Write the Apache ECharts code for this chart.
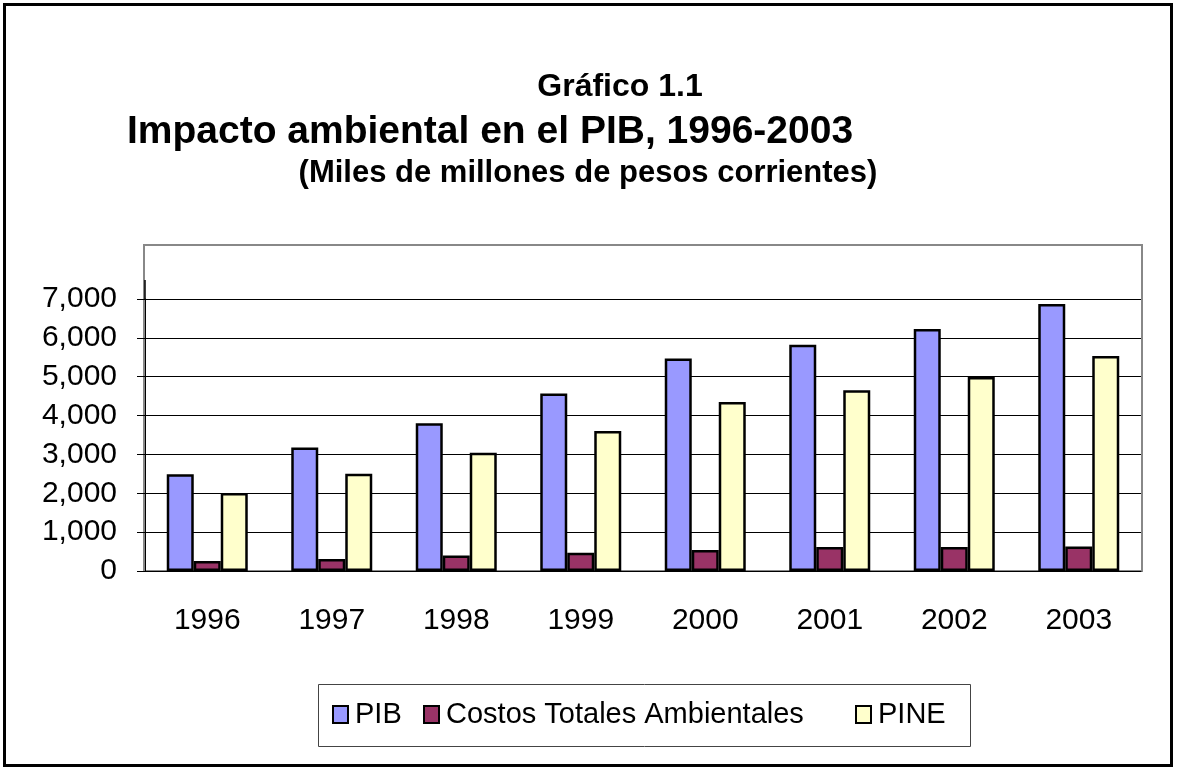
<!DOCTYPE html>
<html>
<head>
<meta charset="utf-8">
<script src="https://cdn.jsdelivr.net/npm/echarts@6/dist/echarts.min.js"></script>
<style>
  html, body { margin: 0; padding: 0; background: #fff; }
  #main { width: 1177px; height: 770px; }
</style>
</head>
<body>
<div id="main"></div>
<script>
// datos del gráfico
var years = ['1996', '1997', '1998', '1999', '2000', '2001', '2002', '2003'];
var pib = [2490, 3180, 3800, 4570, 5470, 5820, 6230, 6870];
var costos = [260, 310, 400, 470, 540, 620, 620, 630];
var pine = [2010, 2500, 3040, 3600, 4350, 4650, 4990, 5530];
var seriesNames = ['PIB', 'Costos Totales Ambientales', 'PINE'];

var FONT = '"Liberation Sans", Arial, sans-serif';

var chart = echarts.init(document.getElementById('main'));

function barSeries(name, data, color) {
    return {
        name: name,
        type: 'bar',
        data: data,
        barWidth: 27,
        barGap: '0%',
        itemStyle: {
            color: color,
            borderColor: '#000',
            borderWidth: 2.5
        }
    };
}

function legendAt(name, left) {
    return {
        data: [name],
        left: left,
        top: 700,
        icon: 'rect',
        itemWidth: 15,
        itemHeight: 17,
        itemGap: 0,
        padding: 0,
        textStyle: { fontFamily: FONT, fontSize: 29, color: '#000', padding: [0, 0, 0, 2] },
        itemStyle: { borderColor: '#000', borderWidth: 2 }
    };
}

chart.setOption({
    animation: false,
    backgroundColor: '#fff',
    grid: { left: 145, right: 36, top: 299, bottom: 199 },
    legend: [
        legendAt(seriesNames[0], 332),
        legendAt(seriesNames[1], 423),
        legendAt(seriesNames[2], 855)
    ],
    xAxis: {
        type: 'category',
        data: years,
        axisLine: { lineStyle: { color: '#000', width: 1 } },
        axisTick: { length: 11, lineStyle: { color: '#000' } },
        axisLabel: { margin: 35, fontFamily: FONT, fontSize: 30, color: '#000' }
    },
    yAxis: {
        type: 'value',
        min: 0,
        max: 7000,
        interval: 1000,
        axisLine: { show: true, lineStyle: { color: '#000', width: 1 } },
        axisTick: { show: true, length: 8, lineStyle: { color: '#000' } },
        axisLabel: {
            margin: 28,
            fontFamily: FONT,
            fontSize: 30,
            color: '#000',
            formatter: function (v) { return v.toLocaleString('en-US'); }
        },
        splitLine: { lineStyle: { color: '#000', width: 1 } }
    },
    series: [
        barSeries(seriesNames[0], pib, '#9999ff'),
        barSeries(seriesNames[1], costos, '#993366'),
        barSeries(seriesNames[2], pine, '#ffffcc')
    ],
    graphic: [
        // marco exterior
        { type: 'rect', shape: { x: 4.5, y: 4.5, width: 1167, height: 761 },
          style: { fill: null, stroke: '#000', lineWidth: 3 }, z: 0 },
        // borde del área de trazado
        { type: 'rect', shape: { x: 144, y: 245, width: 998, height: 326 },
          style: { fill: null, stroke: '#888', lineWidth: 2 }, z: 0 },
        { type: 'line', shape: { x1: 145, y1: 280, x2: 145, y2: 299 },
          style: { stroke: '#000', lineWidth: 1.5 }, z: 10 },
        // caja de la leyenda
        { type: 'rect', shape: { x: 318.5, y: 684.5, width: 652, height: 62 },
          style: { fill: null, stroke: '#444', lineWidth: 1 }, z: 0 },
        // títulos
        { type: 'text', x: 620, y: 71,
          style: { text: 'Gráfico 1.1', font: 'bold 32px ' + FONT, fill: '#000', textAlign: 'center' } },
        { type: 'text', x: 490, y: 113,
          style: { text: 'Impacto ambiental en el PIB, 1996-2003', font: 'bold 39px ' + FONT, fill: '#000', textAlign: 'center' } },
        { type: 'text', x: 588, y: 158,
          style: { text: '(Miles de millones de pesos corrientes)', font: 'bold 31px ' + FONT, fill: '#000', textAlign: 'center' } }
    ]
});
</script>
</body>
</html>
